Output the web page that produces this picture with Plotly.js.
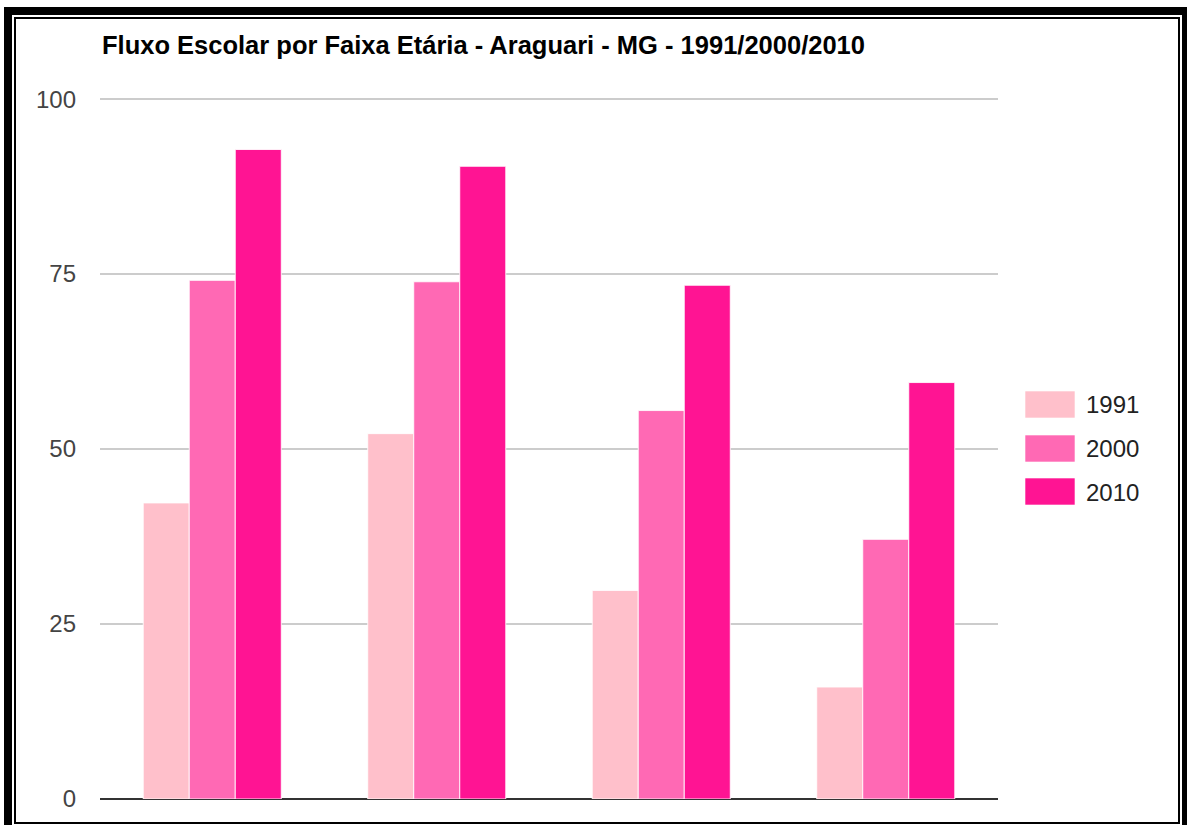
<!DOCTYPE html>
<html>
<head>
<meta charset="utf-8">
<script src="https://cdn.plot.ly/plotly-3.0.1.min.js"></script>
<style>
  html, body { margin: 0; padding: 0; background: #fff; overflow: hidden; }
  #chart { position: absolute; left: 0; top: 0; width: 1187px; height: 825px; }
  .frame { position: absolute; pointer-events: none; box-sizing: border-box; }
  #outer { left: 4px; top: 7px; width: 1186px; height: 830px; border: 8px solid #000; }
  #inner { left: 14px; top: 17px; width: 1166px; height: 807px; border: 2px solid #000; }
</style>
</head>
<body>
<div id="chart"></div>
<div class="frame" id="outer"></div>
<div class="frame" id="inner"></div>
<script>
// ---- data ----
const categories = ["5 a 6 anos", "11 a 13 anos", "15 a 17 anos", "18 a 20 anos"];
const seriesNames = ["1991", "2000", "2010"];
const values1991 = [42.3, 52.2, 29.8, 16.0];
const values2000 = [74.1, 73.9, 55.5, 37.1];
const values2010 = [92.8, 90.4, 73.4, 59.5];
const seriesColors = ["#FFC0CB", "#FF69B4", "#FF1493"];
const yTicks = [0, 25, 50, 75, 100];
const titleText = "Fluxo Escolar por Faixa Etária - Araguari - MG - 1991/2000/2010";

const seriesValues = [values1991, values2000, values2010];

const W = 1187, H = 825;
const plotL = 100, plotR = 998, plotT = 97, plotB = 799;
const yMax = 100.3;

const traces = seriesNames.map((name, i) => ({
  type: 'bar',
  name: name,
  x: categories,
  y: seriesValues[i],
  marker: { color: seriesColors[i], line: { color: 'rgba(255,255,255,0.85)', width: 1 } },
  hoverinfo: 'x+y+name'
}));

// custom legend (large swatches, like the reference)
const pxX = px => (px - plotL) / (plotR - plotL);
const pxY = py => (plotB - py) / (plotB - plotT);
const legendTops = [391, 435, 478];
const shapes = [];
const annotations = [];
seriesNames.forEach((name, i) => {
  const top = legendTops[i];
  shapes.push({
    type: 'rect', xref: 'paper', yref: 'paper',
    x0: pxX(1025), x1: pxX(1075), y0: pxY(top + 27), y1: pxY(top),
    fillcolor: seriesColors[i], line: { color: 'rgba(255,255,255,0.6)', width: 1 }
  });
  annotations.push({
    xref: 'paper', yref: 'paper', x: pxX(1084), y: pxY(top + 14),
    xanchor: 'left', yanchor: 'middle', showarrow: false,
    text: name, font: { family: 'Arial, "Liberation Sans", sans-serif', size: 24, color: '#222' }
  });
});

const layout = {
  width: W, height: H,
  margin: { l: plotL, r: W - plotR, t: plotT, b: H - plotB, pad: 0 },
  paper_bgcolor: '#fff',
  plot_bgcolor: '#fff',
  showlegend: false,
  barmode: 'group',
  bargap: 0.385,
  bargroupgap: 0,
  font: { family: 'Arial, "Liberation Sans", sans-serif', size: 24, color: '#444' },
  title: {
    text: '<b>' + titleText + '</b>',
    xref: 'container', x: 102 / W, xanchor: 'left',
    yref: 'container', y: 1 - 45 / H, yanchor: 'middle',
    font: { family: 'Arial, "Liberation Sans", sans-serif', size: 25.5, color: '#000' }
  },
  xaxis: {
    type: 'category',
    showticklabels: false,
    showgrid: false,
    zeroline: false,
    showline: false,
    ticks: ''
  },
  yaxis: {
    range: [0, yMax],
    tickvals: yTicks,
    ticktext: yTicks.map(String),
    showgrid: true,
    gridcolor: '#cccccc',
    gridwidth: 1.5,
    zeroline: true,
    zerolinecolor: '#333333',
    zerolinewidth: 2,
    showline: false,
    ticks: '',
    ticklabelstandoff: 23,
    tickfont: { size: 24, color: '#444' }
  },
  shapes: shapes,
  annotations: annotations
};

Plotly.newPlot('chart', traces, layout, { displayModeBar: false, staticPlot: true });
</script>
</body>
</html>
